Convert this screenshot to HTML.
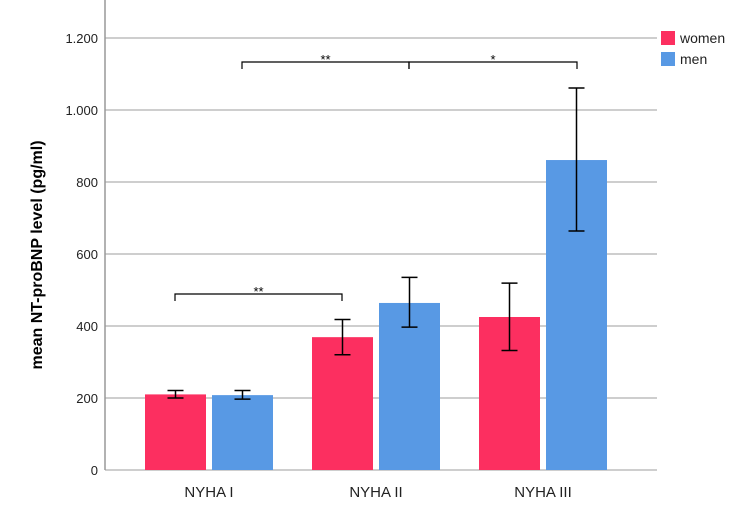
<!DOCTYPE html>
<html><head><meta charset="utf-8"><style>
body{margin:0;background:#fff;font-family:"Liberation Sans",Arial,sans-serif}
</style></head><body>
<svg width="744" height="526" id="c" style="display:block">
<rect width="744" height="526" fill="#fff"/>
</svg>
<script>
const categories=["NYHA I","NYHA II","NYHA III"];
const women=[210,369,425];
const men=[208,464,861];
const womenLo=[200,320,332];
const womenHi=[221,418,519];
const menLo=[197,397,664];
const menHi=[221,535,1061];
const yTicks=[0,200,400,600,800,1000,1200];
const yTickLabels=["0","200","400","600","800","1.000","1.200"];
const svg=document.getElementById('c');
const NS='http://www.w3.org/2000/svg';
const x0=105,x1=657;
function y(v){return 470-v*0.36;}
function cx(i){return 276+i*167;}
function mk(t,a){const e=document.createElementNS(NS,t);for(const k in a)e.setAttribute(k,a[k]);svg.appendChild(e);return e;}
yTicks.forEach((v,i)=>{
  const g=mk('line',{x1:x0,x2:x1,y1:y(v),y2:y(v),stroke:'#bdbdbd','stroke-width':1.5});
  
  
  const t=mk('text',{x:98,y:y(v)+5,'text-anchor':'end','font-size':13,fill:'#222'});
  t.textContent=yTickLabels[i];
  
  
});
const ax=mk('line',{x1:x0,x2:x0,y1:0,y2:470,stroke:'#999','stroke-width':1.5});


function bar(xl,v,lo,hi,col,name){
  const r=mk('rect',{x:xl,y:y(v),width:61,height:470-y(v),fill:col});
  
  
  const m=xl+30.5;
  const e=mk('path',{d:`M${m},${y(hi)}V${y(lo)}M${m-8},${y(hi)}H${m+8}M${m-8},${y(lo)}H${m+8}`,stroke:'#000','stroke-width':1.5,fill:'none'});
  
  
}
categories.forEach((c,i)=>{
  bar(cx(i)-131,women[i],womenLo[i],womenHi[i],'#fc2f60','bar-women-'+(i+1));
  bar(cx(i)-64,men[i],menLo[i],menHi[i],'#5899e4','bar-men-'+(i+1));
  const t=mk('text',{x:cx(i)-67,y:497,'text-anchor':'middle','font-size':15,fill:'#222'});
  t.textContent=c;
  
  
});
function bracket(a,b,yy,label,name){
  const p=mk('path',{d:`M${a},${yy+7}V${yy}H${b}V${yy+7}`,stroke:'#000','stroke-width':1.2,fill:'none'});
  
  
  const t=mk('text',{x:(a+b)/2,y:yy+2,'text-anchor':'middle','font-size':13,fill:'#000'});
  t.textContent=label;
  
  
}
bracket(175,342,294,'**','sig-bracket-nyha1');
bracket(242,409,62,'**','sig-bracket-women');
bracket(409,577,62,'*','sig-bracket-men');
const yt=mk('text',{transform:'translate(42,255) rotate(-90)','text-anchor':'middle','font-size':16,'font-weight':'bold',fill:'#000'});
yt.textContent='mean NT-proBNP level (pg/ml)';


[['women','#fc2f60',31],['men','#5899e4',52]].forEach(l=>{
  const r=mk('rect',{x:661,y:l[2],width:14,height:14,fill:l[1]});
  
  
  const t=mk('text',{x:680,y:l[2]+12,'font-size':14,fill:'#222'});
  t.textContent=l[0];
  
  
});
</script>
</body></html>
